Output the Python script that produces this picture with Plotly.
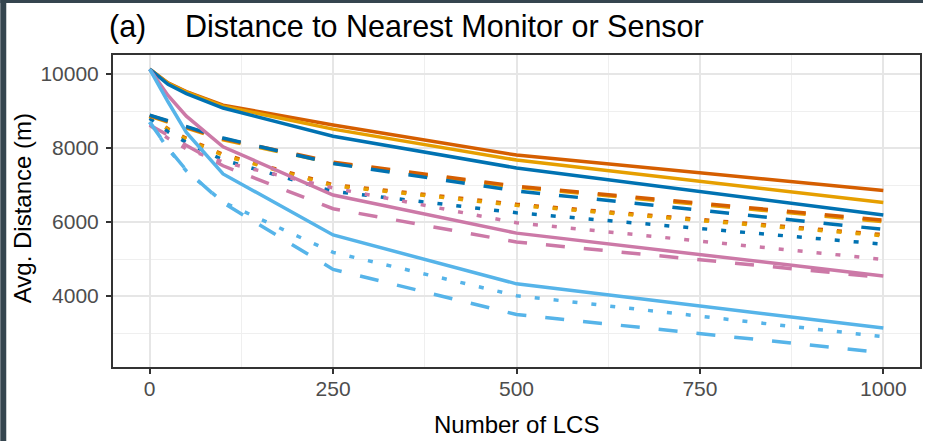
import plotly.graph_objects as go

# ---- data ----
n_lcs = [0, 25, 50, 100, 250, 500, 1000]

red_solid = [10130, 9760, 9525, 9160, 8620, 7810, 6850]
orange_solid = [10130, 9750, 9510, 9130, 8510, 7675, 6530]
blue_solid = [10130, 9720, 9470, 9080, 8320, 7460, 6190]
pink_solid = [10130, 9420, 8860, 8035, 6730, 5700, 4540]
sky_solid = [10130, 9250, 8420, 7300, 5650, 4330, 3135]

red_dash = [8880, 8720, 8560, 8250, 7620, 6970, 6050]
orange_dash = [8860, 8700, 8530, 8220, 7590, 6940, 6010]
blue_dash = [8890, 8730, 8570, 8270, 7580, 6840, 5800]
pink_dash = [8620, 8350, 8070, 7520, 6360, 5460, 4500]
sky_dash = [8700, 8000, 7400, 6520, 4720, 3500, 2470]

red_dot = [8860, 8520, 8260, 7830, 7010, 6480, 5660]
orange_dot = [8850, 8500, 8240, 7800, 6980, 6450, 5630]
blue_dot = [8800, 8440, 8150, 7680, 6830, 6250, 5400]
pink_dot = [8620, 8260, 7980, 7620, 6920, 5980, 4990]
sky_dot = [8700, 7980, 7380, 6540, 5180, 4010, 2900]

x_ticks = [0, 250, 500, 750, 1000]
y_ticks = [4000, 6000, 8000, 10000]

title_tag = "(a)"
title_text = "Distance to Nearest Monitor or Sensor"
x_title = "Number of LCS"
y_title = "Avg. Distance (m)"

C_RED = "#D55E00"
C_ORA = "#E69F00"
C_BLU = "#0072B2"
C_PNK = "#CC79A7"
C_SKY = "#56B4E9"

DASH = "19px,19px"
DOT = "5px,14px"
LW = 3.5

series = [
    (red_dot, C_RED, DOT), (orange_dot, C_ORA, DOT), (blue_dot, C_BLU, DOT),
    (pink_dot, C_PNK, DOT), (sky_dot, C_SKY, DOT),
    (orange_dash, C_ORA, DASH), (red_dash, C_RED, DASH), (blue_dash, C_BLU, DASH),
    (pink_dash, C_PNK, DASH), (sky_dash, C_SKY, DASH),
    (red_solid, C_RED, "solid"), (orange_solid, C_ORA, "solid"), (blue_solid, C_BLU, "solid"),
    (pink_solid, C_PNK, "solid"), (sky_solid, C_SKY, "solid"),
]

fig = go.Figure()
for ys, col, dash in series:
    fig.add_trace(go.Scatter(x=n_lcs, y=ys, mode="lines",
                             line=dict(color=col, width=LW, dash=dash),
                             showlegend=False, hoverinfo="skip"))

FONT = "Liberation Sans, Arial, sans-serif"
W, H = 925, 441
ML, MR, MT, MB = 113, 3, 55, 74
PW = W - ML - MR
PH = H - MT - MB

def px_x(p):
    return (p - ML) / PW

def px_y(p):
    return (H - MB - p) / PH

fig.update_layout(
    width=W, height=H,
    margin=dict(l=ML, r=MR, t=MT, b=MB, pad=0),
    paper_bgcolor="white", plot_bgcolor="white",
    font=dict(family=FONT),
    xaxis=dict(range=[-50, 1050], tickvals=x_ticks, ticktext=[str(v) for v in x_ticks],
               showgrid=True, gridcolor="#E6E6E6", gridwidth=1.5,
               minor=dict(tick0=125, dtick=250, showgrid=True, gridcolor="#EFEFEF", gridwidth=1, ticks=""),
               zeroline=False, showline=True, mirror=True, linecolor="#333333", linewidth=2,
               ticks="outside", ticklen=5, tickwidth=1.5, tickcolor="#333333",
               ticklabelstandoff=-3,
               tickfont=dict(size=21, color="#4D4D4D", family=FONT)),
    yaxis=dict(range=[2082, 10514], tickvals=y_ticks, ticktext=[str(v) for v in y_ticks],
               showgrid=True, gridcolor="#E6E6E6", gridwidth=1.5,
               minor=dict(tick0=1000, dtick=2000, showgrid=True, gridcolor="#EFEFEF", gridwidth=1, ticks=""),
               zeroline=False, showline=True, mirror=True, linecolor="#333333", linewidth=2,
               ticks="outside", ticklen=5, tickwidth=1.5, tickcolor="#333333",
               ticklabelstandoff=3,
               tickfont=dict(size=21, color="#4D4D4D", family=FONT)),
    annotations=[
        dict(text=title_tag, x=px_x(107), y=px_y(26), xref="paper", yref="paper",
             xanchor="left", yanchor="middle", showarrow=False,
             font=dict(size=30.5, color="black", family=FONT)),
        dict(text=title_text, x=px_x(183), y=px_y(26), xref="paper", yref="paper",
             xanchor="left", yanchor="middle", showarrow=False,
             font=dict(size=30.5, color="black", family=FONT)),
        dict(text=x_title, x=0.5, y=px_y(424), xref="paper", yref="paper",
             xanchor="center", yanchor="middle", showarrow=False,
             font=dict(size=24, color="black", family=FONT)),
        dict(text=y_title, x=px_x(22), y=px_y(208), xref="paper", yref="paper",
             xanchor="center", yanchor="middle", showarrow=False, textangle=-90,
             font=dict(size=24, color="black", family=FONT)),
    ],
    shapes=[
        dict(type="rect", xref="paper", yref="paper", x0=px_x(0), x1=px_x(6),
             y0=px_y(H), y1=px_y(0), fillcolor="#35454F", line=dict(width=0), layer="above"),
        dict(type="rect", xref="paper", yref="paper", x0=px_x(0), x1=px_x(W),
             y0=px_y(3), y1=px_y(0), fillcolor="#35454F", line=dict(width=0), layer="above"),
    ],
)

fig.write_html("out.html")
